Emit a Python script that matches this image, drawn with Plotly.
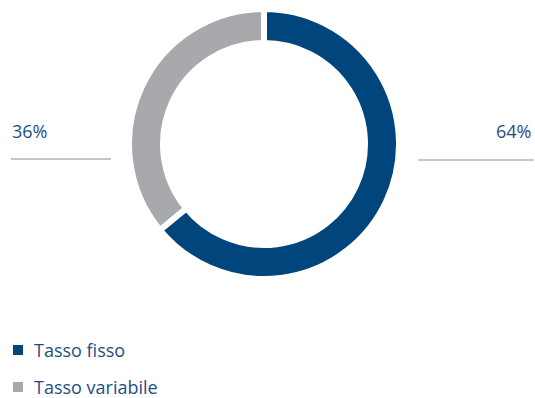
import plotly.graph_objects as go

labels = ["Tasso fisso", "Tasso variabile"]
values = [64, 36]
colors = ["#00457c", "#a7a9ac"]
text_color = "#1f4e85"

W, H = 535, 398
cx, cy = 264, 144
gap = 6
r = 132 + gap / 2          # white slice borders eat half the stroke from the outer edge
r_in = 104 - gap / 2

fig = go.Figure(go.Pie(
    labels=labels,
    values=values,
    hole=r_in / r,
    sort=False,
    direction="clockwise",
    rotation=0,
    marker=dict(colors=colors, line=dict(color="white", width=gap)),
    textinfo="none",
    hoverinfo="label+percent",
    showlegend=False,
    domain=dict(x=[(cx - r) / W, (cx + r) / W], y=[(H - cy - r) / H, (H - cy + r) / H]),
))

font = dict(family="Open Sans, Noto Sans, sans-serif", size=18, color=text_color)

# percentage callouts with leader lines
fig.add_annotation(x=10 / W, y=1 - 131 / H, xref="paper", yref="paper", text=f"{values[1]}%",
                   showarrow=False, xanchor="left", yanchor="middle", font=font)
fig.add_annotation(x=533 / W, y=1 - 131 / H, xref="paper", yref="paper", text=f"{values[0]}%",
                   showarrow=False, xanchor="right", yanchor="middle", font=font)
fig.add_shape(type="line", xref="paper", yref="paper", x0=11 / W, x1=111 / W,
              y0=1 - 159 / H, y1=1 - 159 / H, line=dict(color="#8a8a8a", width=1))
fig.add_shape(type="line", xref="paper", yref="paper", x0=418 / W, x1=534 / W,
              y0=1 - 160 / H, y1=1 - 160 / H, line=dict(color="#b5b5b5", width=1.5))

# legend
for i, (lab, col) in enumerate(zip(labels, colors)):
    yc = 350 + i * 37
    fig.add_shape(type="rect", xref="paper", yref="paper",
                  x0=13 / W, x1=23 / W, y0=1 - (yc + 5) / H, y1=1 - (yc - 5) / H,
                  fillcolor=col, line=dict(width=0))
    fig.add_annotation(x=33 / W, y=1 - yc / H, xref="paper", yref="paper", text=lab,
                       showarrow=False, xanchor="left", yanchor="middle", font=font,
                       borderpad=0)

fig.update_layout(
    width=W, height=H,
    margin=dict(l=0, r=0, t=0, b=0),
    paper_bgcolor="white",
    plot_bgcolor="white",
)

fig.write_html("out.html", config={"displayModeBar": False},
               post_script="document.body.style.margin='0';document.body.style.overflow='hidden';")
